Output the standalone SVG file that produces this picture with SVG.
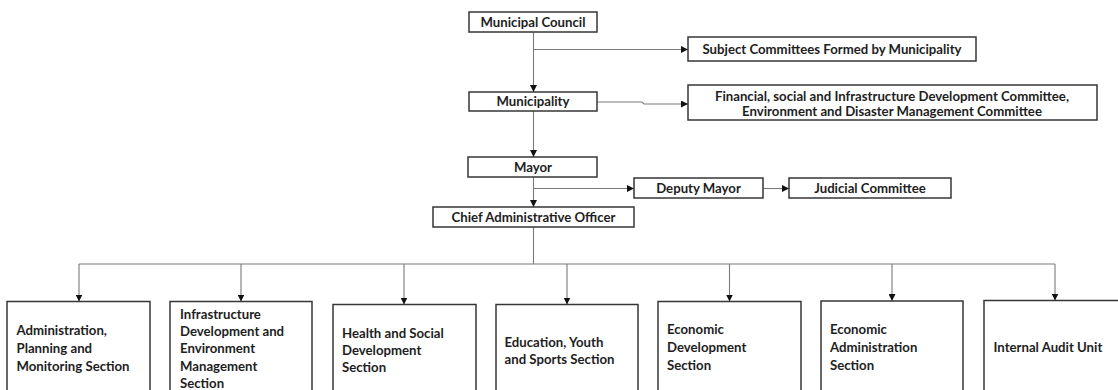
<svg xmlns="http://www.w3.org/2000/svg" width="1118" height="390" viewBox="0 0 1118 390">
  <style>
    .box { fill: #ffffff; stroke: #363636; stroke-width: 1.5; }
    .lbl { font-family: Lato, "Liberation Sans", sans-serif; font-weight: bold; font-size: 13.2px; fill: #1e1e1e; }
    .mid { text-anchor: middle; }
    .wire { fill: none; stroke: #7a7a7a; stroke-width: 1.1; }
  </style>
  <defs>
    <marker id="arrow" markerWidth="7" markerHeight="7" refX="7" refY="3.5" orient="auto" markerUnits="userSpaceOnUse">
      <path d="M0,0 L7,3.5 L0,7 Z" fill="#111111"/>
    </marker>
  </defs>
  <rect width="1118" height="390" fill="#ffffff"/>

  <!-- connectors -->
  <g id="connectors">
    <path class="wire" d="M533.5,32 V92" marker-end="url(#arrow)"/>
    <path class="wire" d="M533.5,49.5 H688" marker-end="url(#arrow)"/>
    <path class="wire" d="M597,102 H642 L644,104 H688" marker-end="url(#arrow)"/>
    <path class="wire" d="M533.5,111 V157" marker-end="url(#arrow)"/>
    <path class="wire" d="M533.5,177 V207" marker-end="url(#arrow)"/>
    <path class="wire" d="M533.5,188.5 H634" marker-end="url(#arrow)"/>
    <path class="wire" d="M763,188.5 H789" marker-end="url(#arrow)"/>
    <path class="wire" d="M533.5,227 V264 H79"/>
    <path class="wire" d="M533.5,264 H1055"/>
    <path class="wire" d="M79,264 V301.5" marker-end="url(#arrow)"/>
    <path class="wire" d="M241,264 V301.5" marker-end="url(#arrow)"/>
    <path class="wire" d="M404,264 V304.5" marker-end="url(#arrow)"/>
    <path class="wire" d="M567,264 V304.5" marker-end="url(#arrow)"/>
    <path class="wire" d="M729.5,264 V301.5" marker-end="url(#arrow)"/>
    <path class="wire" d="M892,264 V301" marker-end="url(#arrow)"/>
    <path class="wire" d="M1055,264 V300.5" marker-end="url(#arrow)"/>
  </g>

  <!-- upper chain -->
  <g id="municipal-council">
    <rect class="box" x="469" y="12" width="128" height="20"/>
    <text class="lbl mid" x="533" y="26.5">Municipal Council</text>
  </g>
  <g id="subject-committees">
    <rect class="box" x="688" y="37" width="288" height="24"/>
    <text class="lbl mid" x="832" y="53.5">Subject Committees Formed by Municipality</text>
  </g>
  <g id="municipality">
    <rect class="box" x="469" y="92" width="128" height="19"/>
    <text class="lbl mid" x="533" y="106">Municipality</text>
  </g>
  <g id="development-committees">
    <rect class="box" x="688" y="85" width="409" height="35"/>
    <text class="lbl mid" x="892" y="101">Financial, social and Infrastructure Development Committee,</text>
    <text class="lbl mid" x="892" y="115.5">Environment and Disaster Management Committee</text>
  </g>
  <g id="mayor">
    <rect class="box" x="468" y="157" width="129" height="20"/>
    <text class="lbl mid" x="533" y="171.5">Mayor</text>
  </g>
  <g id="deputy-mayor">
    <rect class="box" x="634" y="178" width="129" height="20"/>
    <text class="lbl mid" x="698.5" y="192.5">Deputy Mayor</text>
  </g>
  <g id="judicial-committee">
    <rect class="box" x="789" y="178" width="162" height="20"/>
    <text class="lbl mid" x="870" y="192.5">Judicial Committee</text>
  </g>
  <g id="chief-administrative-officer">
    <rect class="box" x="433" y="207" width="201" height="20"/>
    <text class="lbl mid" x="533.5" y="221.5">Chief Administrative Officer</text>
  </g>

  <!-- sections -->
  <g id="admin-planning">
    <rect class="box" x="7" y="301.5" width="143" height="100"/>
    <text class="lbl" x="16.5" y="334.5">Administration,</text>
    <text class="lbl" x="16.5" y="352.5">Planning and</text>
    <text class="lbl" x="16.5" y="370.5">Monitoring Section</text>
  </g>
  <g id="infrastructure-environment">
    <rect class="box" x="170" y="301.5" width="142" height="100"/>
    <text class="lbl" x="180" y="318.5">Infrastructure</text>
    <text class="lbl" x="180" y="335.5">Development and</text>
    <text class="lbl" x="180" y="352.5">Environment</text>
    <text class="lbl" x="180" y="370.5">Management</text>
    <text class="lbl" x="180" y="387.5">Section</text>
  </g>
  <g id="health-social">
    <rect class="box" x="333" y="304.5" width="143" height="100"/>
    <text class="lbl" x="342" y="337.5">Health and Social</text>
    <text class="lbl" x="342" y="354.5">Development</text>
    <text class="lbl" x="342" y="371.5">Section</text>
  </g>
  <g id="education-youth-sports">
    <rect class="box" x="496" y="304.5" width="142" height="100"/>
    <text class="lbl" x="504.5" y="346.5">Education, Youth</text>
    <text class="lbl" x="504.5" y="363.5">and Sports Section</text>
  </g>
  <g id="economic-development">
    <rect class="box" x="658" y="301.5" width="143" height="100"/>
    <text class="lbl" x="667" y="333.5">Economic</text>
    <text class="lbl" x="667" y="351.5">Development</text>
    <text class="lbl" x="667" y="369.5">Section</text>
  </g>
  <g id="economic-administration">
    <rect class="box" x="821" y="301" width="142" height="100"/>
    <text class="lbl" x="830" y="333.5">Economic</text>
    <text class="lbl" x="830" y="351.5">Administration</text>
    <text class="lbl" x="830" y="369.5">Section</text>
  </g>
  <g id="internal-audit">
    <rect class="box" x="984" y="300.5" width="143" height="100"/>
    <text class="lbl" x="993.5" y="351.5">Internal Audit Unit</text>
  </g>
</svg>
